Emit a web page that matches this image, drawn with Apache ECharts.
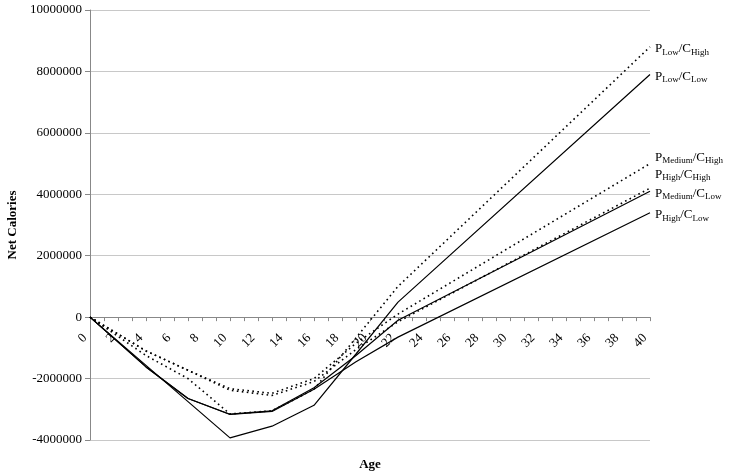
<!DOCTYPE html>
<html>
<head>
<meta charset="utf-8">
<script src="https://cdn.jsdelivr.net/npm/echarts@6/dist/echarts.min.js"></script>
<style>html,body{margin:0;padding:0;background:#fff}#c{width:729px;height:473px}</style>
</head>
<body>
<div id="c"></div>
<script>
// ---- data ----
var ages = [0, 4, 7, 10, 13, 16, 19, 22, 40];
var pLowCHigh  = [0, -1250000, -2000000, -3150000, -3050000, -2350000,  -670000, 1000000, 8800000];
var pLowCLow   = [0, -1570000, -2750000, -3930000, -3550000, -2870000, -1200000,  490000, 7900000];
var pMedCHigh  = [0, -1100000, -1730000, -2330000, -2480000, -2000000,  -850000,  100000, 5000000];
var pHighCHigh = [0, -1100000, -1730000, -2380000, -2550000, -2100000, -1050000, -150000, 4200000];
var pMedCLow   = [0, -1620000, -2650000, -3160000, -3050000, -2300000, -1250000, -100000, 4100000];
var pHighCLow  = [0, -1620000, -2650000, -3170000, -3070000, -2350000, -1450000, -650000, 3400000];
var seriesNames = ['PLow/CHigh', 'PLow/CLow', 'PMedium/CHigh', 'PHigh/CHigh', 'PMedium/CLow', 'PHigh/CLow'];
var labelParts = [['Low','High'], ['Low','Low'], ['Medium','High'], ['High','High'], ['Medium','Low'], ['High','Low']];
var seriesValues = [pLowCHigh, pLowCLow, pMedCHigh, pHighCHigh, pMedCLow, pHighCLow];
var dottedFlags = [true, false, true, true, false, false];

// ---- styles ----
var labelOffsets = [[0, 2], [0, 2], [0, -6], [0, -14], [0, 2], [0, 2]];
var FONT = '"Liberation Serif", "Times New Roman", serif';
var GRID = { left: 90, right: 79, top: 10, bottom: 33 };
var Y_MIN = -4000000, Y_MAX = 10000000;
// x axis is drawn through y = 0: shift it up from the grid bottom
var plotH = 473 - GRID.top - GRID.bottom;
var zeroShift = plotH * (0 - Y_MIN) / (Y_MAX - Y_MIN);

function pairs(vals) { return ages.map(function (a, i) { return [a, vals[i]]; }); }

var series = seriesValues.map(function (vals, k) {
  return {
    name: seriesNames[k],
    type: 'line',
    data: pairs(vals),
    symbol: 'none',
    silent: true,
    lineStyle: dottedFlags[k]
      ? { color: '#000', width: 1.6, type: [1.6, 3.4] }
      : { color: '#000', width: 1.2, type: 'solid' },
    endLabel: {
      show: true,
      distance: 5,
      offset: labelOffsets[k],
      formatter: 'P{s|' + labelParts[k][0] + '}/C{s|' + labelParts[k][1] + '}',
      color: '#000',
      fontFamily: FONT,
      fontSize: 13,
      rich: {
        s: { fontFamily: FONT, fontSize: 9, color: '#000', padding: [7, 0, 0, 0] }
      }
    }
  };
});

var chart = echarts.init(document.getElementById('c'), null, { renderer: 'canvas' });
chart.setOption({
  animation: false,
  backgroundColor: '#fff',
  grid: { left: GRID.left, right: GRID.right, top: GRID.top, bottom: GRID.bottom, containLabel: false, outerBoundsMode: 'none' },
  xAxis: {
    type: 'value',
    min: 0, max: 40, interval: 2,
    offset: -zeroShift,
    name: 'Age',
    nameLocation: 'middle',
    nameGap: 141,
    nameTextStyle: { fontFamily: FONT, fontSize: 13, fontWeight: 'bold', color: '#000' },
    axisLine: { onZero: false, lineStyle: { color: '#888', width: 1 } },
    axisTick: { show: true, length: 4, lineStyle: { color: '#888' } },
    minorTick: { show: true, splitNumber: 2, length: 4, lineStyle: { color: '#888' } },
    splitLine: { show: false },
    axisLabel: { rotate: 45, margin: 14, padding: [0, 7, 0, 0], fontFamily: FONT, fontSize: 13, color: '#000' }
  },
  yAxis: {
    type: 'value',
    min: Y_MIN, max: Y_MAX, interval: 2000000,
    name: 'Net Calories',
    nameLocation: 'middle',
    nameRotate: 90,
    nameGap: 69,
    nameTextStyle: { fontFamily: FONT, fontSize: 13, fontWeight: 'bold', color: '#000' },
    axisLine: { show: true, lineStyle: { color: '#888', width: 1 } },
    axisTick: { show: true, length: 5, lineStyle: { color: '#888' } },
    splitLine: { show: true, lineStyle: { color: '#c8c8c8', width: 1 } },
    axisLabel: {
      margin: 8, fontFamily: FONT, fontSize: 13, color: '#000',
      formatter: function (v) { return String(v); }
    }
  },
  series: series
});
</script>
</body>
</html>
